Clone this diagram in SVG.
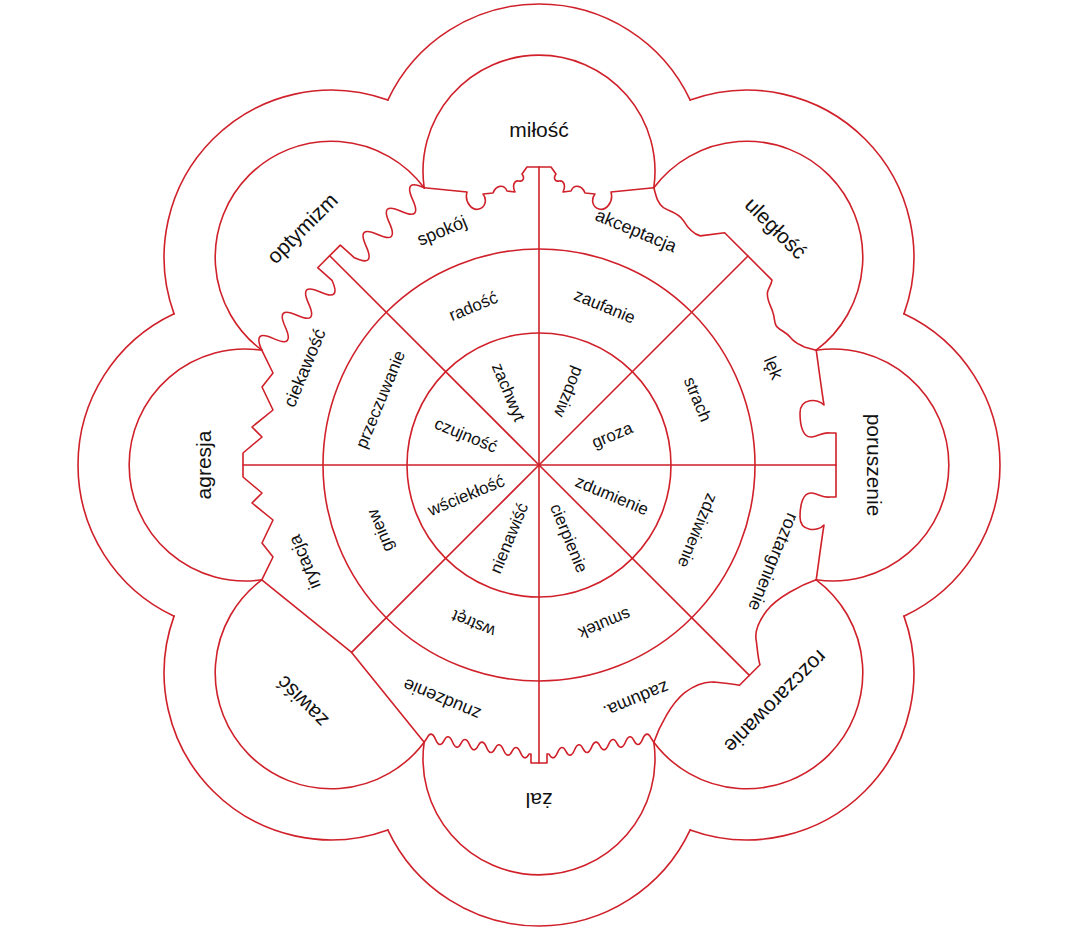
<svg xmlns="http://www.w3.org/2000/svg" width="1090" height="930" viewBox="0 0 1090 930">
<style>
.ln{fill:none;stroke:#d0202a;stroke-width:1.6;stroke-linejoin:round;stroke-linecap:round}
text{font-family:"Liberation Sans","DejaVu Sans",sans-serif;fill:#111;text-anchor:middle}
.pl{font-size:21px}
.rl{font-size:18px}
.ml{font-size:17px}
.il{font-size:17px}
</style>
<defs>
<path id="lobe" d="M-151.2 -70.9 A167 167 0 0 1 151.2 -70.9"/>
<path id="pet" d="M-114.8 16.8 A116 116 0 1 1 114.8 16.8"/>
</defs>
<rect width="1090" height="930" fill="#fff"/>

<g id="circles">
<circle class="ln" cx="539" cy="465" r="216"/>
<circle class="ln" cx="539" cy="465" r="132"/>
</g>

<g id="petal-milosc" transform="translate(539,171)">
<use href="#lobe" class="ln"/><use href="#pet" class="ln"/>
<path class="ln" d="M-114.8 16.8 L-72 21 C-75 32 -66 40 -60 38 C-53 36 -52 28 -56 23 L-46 22 C-43 14 -35 13 -32 20 L-24 21 C-27 15 -25 9 -20 10 C-16 11 -14 7 -17 3 L-12 -4 L12 -4 L17 3 C14 7 16 11 20 10 C25 9 27 15 24 21 L32 20 C35 13 43 14 46 22 L56 23 C52 28 53 36 60 38 C66 40 75 32 72 21 L114.8 16.8"/>
<text class="pl" y="-41" dy="0.35em">miłość</text>
</g>

<g id="petal-uleglosc" transform="translate(746.9,257.1) rotate(45)">
<use href="#lobe" class="ln"/><use href="#pet" class="ln"/>
<path class="ln" d="M-114.8 16.8 C-106 22 -101 25 -94 24 C-86 22 -80 17 -71 19 C-63 21 -55 22 -48 18 L-33 -1.5 L34 -1.5 C38 4 37 9 41 12 C46 17 53 18 58 21 C64 24 66 28 71 28 C77 28 82 25 88 26 C95 27 100 24 104 23 L114.8 16.8"/>
<text class="pl" y="-41" dy="0.35em">uległość</text>
</g>

<g id="petal-poruszenie" transform="translate(833,465) rotate(90)">
<use href="#lobe" class="ln"/><use href="#pet" class="ln"/>
<path class="ln" d="M-114.8 16.8 C-95 14 -72 11 -60 9 C-67 15 -67 33 -52 33 C-39 33 -27 30 -28 21 C-29 14 -33 10 -32 3 L-32 -3 L32 -3 L32 3 C33 10 29 14 28 21 C27 30 39 33 52 33 C67 33 67 15 60 9 C72 11 95 14 114.8 16.8"/>
<text class="pl" y="-41" dy="0.35em">poruszenie</text>
</g>

<g id="petal-rozczarowanie" transform="translate(746.9,672.9) rotate(135)">
<use href="#lobe" class="ln"/><use href="#pet" class="ln"/>
<path class="ln" d="M-114.8 16.8 C-100 24 -75 32 -58 30 C-44 28 -35 24 -30 17 C-25 10 -19 4 -15 -3.5 L14 -3.5 C19 4 25 11 30 17 C36 24 44 28 58 30 C75 32 100 24 114.8 16.8"/>
<text class="pl" y="-41" dy="0.35em">rozczarowanie</text>
</g>

<g id="petal-zal" transform="translate(539,759) rotate(180)">
<use href="#lobe" class="ln"/><use href="#pet" class="ln"/>
<path class="ln" d="M114.8 16.8 L112 21 Q107.75 29.35 103.5 19.68 Q99.25 10.01 95 18.35 Q90.75 26.68 86.5 17.01 Q82.25 7.34 78 15.68 Q73.75 24.01 69.5 14.34 Q65.25 4.67 61 13.01 Q56.75 21.34 52.5 11.67 Q48.25 2 44 10.34 Q39.75 18.67 35.5 9 Q31.25 -0.66 27 7.67 Q22.75 16 18.5 6.33 Q14.25 -3.33 10 5 L8 5 L8 -4 L-8 -4 L-8 5 L-10 5 Q-14.25 -3.33 -18.5 6.33 Q-22.75 16 -27 7.67 Q-31.25 -0.66 -35.5 9 Q-39.75 18.67 -44 10.34 Q-48.25 2 -52.5 11.67 Q-56.75 21.34 -61 13.01 Q-65.25 4.67 -69.5 14.34 Q-73.75 24.01 -78 15.68 Q-82.25 7.34 -86.5 17.01 Q-90.75 26.68 -95 18.35 Q-99.25 10.01 -103.5 19.68 Q-107.75 29.35 -112 21 L-114.8 16.8"/>
<text class="pl" y="-41" dy="0.35em">żal</text>
</g>

<g id="petal-zawisc" transform="translate(331.1,672.9) rotate(225)">
<use href="#lobe" class="ln"/><use href="#pet" class="ln"/>
<path class="ln" d="M-114.8 16.8 L0 29 L114.8 16.8"/>
<text class="pl" y="-41" dy="0.35em">zawiść</text>
</g>

<g id="petal-agresja" transform="translate(245,465) rotate(270)">
<use href="#lobe" class="ln"/><use href="#pet" class="ln"/>
<path class="ln" d="M-114.8 16.8 L-92 28 L-78 17 L-55 28 L-38 7 L-28 17 L-12 -2 L12 -2 L28 17 L38 7 L55 28 L78 17 L92 28 L114.8 16.8"/>
<text class="pl" y="-41" dy="0.35em">agresja</text>
</g>

<g id="petal-optymizm" transform="translate(331.1,257.1) rotate(315)">
<use href="#lobe" class="ln"/><use href="#pet" class="ln"/>
<path class="ln" d="M-114.8 16.8 Q-106.55 -5 -98.3 17 Q-90.05 39 -81.8 17 Q-73.55 -5 -65.3 17 Q-57.05 39 -48.8 17 Q-40.55 -5 -32.3 17 Q-24.05 39 -15.8 17 L-17 -2 L15 -2 L16 17 Q24.23 39 32.47 17 Q40.7 -5 48.93 17 Q57.17 39 65.4 17 Q73.63 -5 81.87 17 Q90.1 39 98.33 17 Q106.57 -5 114.8 16.8"/>
<text class="pl" y="-41" dy="0.35em">optymizm</text>
</g>

<g id="spokes" class="ln">
<line x1="0" y1="0" x2="0" y2="-298" transform="translate(539,465)"/>
<line x1="0" y1="0" x2="0" y2="-295.5" transform="translate(539,465) rotate(45)"/>
<line x1="0" y1="0" x2="0" y2="-297" transform="translate(539,465) rotate(90)"/>
<line x1="0" y1="0" x2="0" y2="-297.5" transform="translate(539,465) rotate(135)"/>
<line x1="0" y1="0" x2="0" y2="-298" transform="translate(539,465) rotate(180)"/>
<line x1="0" y1="0" x2="0" y2="-265" transform="translate(539,465) rotate(225)"/>
<line x1="0" y1="0" x2="0" y2="-296" transform="translate(539,465) rotate(270)"/>
<line x1="0" y1="0" x2="0" y2="-296" transform="translate(539,465) rotate(315)"/>
</g>

<g id="inner-labels" class="il">
<text transform="translate(508.8,392) rotate(67.5)" dy="0.35em">zachwyt</text>
<text transform="translate(569.2,392) rotate(112.5)" dy="0.35em">podziw</text>
<text transform="translate(612,434.8) rotate(-22.5)" dy="0.35em">groza</text>
<text transform="translate(612,495.2) rotate(22.5)" dy="0.35em">zdumienie</text>
<text transform="translate(569.2,538) rotate(67.5)" dy="0.35em">cierpienie</text>
<text transform="translate(508.8,538) rotate(-67.5)" dy="0.35em">nienawiść</text>
<text transform="translate(466,495.2) rotate(-22.5)" dy="0.35em">wściekłość</text>
<text transform="translate(466,434.8) rotate(22.5)" dy="0.35em">czujność</text>
</g>

<g id="middle-labels" class="ml">
<text transform="translate(473.2,306.1) rotate(-22.5)" dy="0.35em">radość</text>
<text transform="translate(604.8,306.1) rotate(22.5)" dy="0.35em">zaufanie</text>
<text transform="translate(697.9,399.2) rotate(67.5)" dy="0.35em">strach</text>
<text transform="translate(697.9,530.8) rotate(112.5)" dy="0.35em">zdziwienie</text>
<text transform="translate(604.8,623.9) rotate(157.5)" dy="0.35em">smutek</text>
<text transform="translate(473.2,623.9) rotate(202.5)" dy="0.35em">wstręt</text>
<text transform="translate(380.1,530.8) rotate(247.5)" dy="0.35em">gniew</text>
<text transform="translate(380.1,399.2) rotate(292.5)" dy="0.35em">przeczuwanie</text>
</g>

<g id="ring-labels" class="rl">
<text transform="translate(441.8,230.3) rotate(-22.5)" dy="0.35em">spokój</text>
<text transform="translate(636.2,230.3) rotate(22.5)" dy="0.35em">akceptacja</text>
<text transform="translate(773.7,367.8) rotate(67.5)" dy="0.35em">lęk</text>
<text transform="translate(773.7,562.2) rotate(112.5)" dy="0.35em">roztargnienie</text>
<text transform="translate(636.2,699.7) rotate(157.5)" dy="0.35em">zaduma.</text>
<text transform="translate(441.8,699.7) rotate(202.5)" dy="0.35em">znudzenie</text>
<text transform="translate(304.3,562.2) rotate(247.5)" dy="0.35em">irytacja</text>
<text transform="translate(304.3,367.8) rotate(292.5)" dy="0.35em">ciekawość</text>
</g>
</svg>
